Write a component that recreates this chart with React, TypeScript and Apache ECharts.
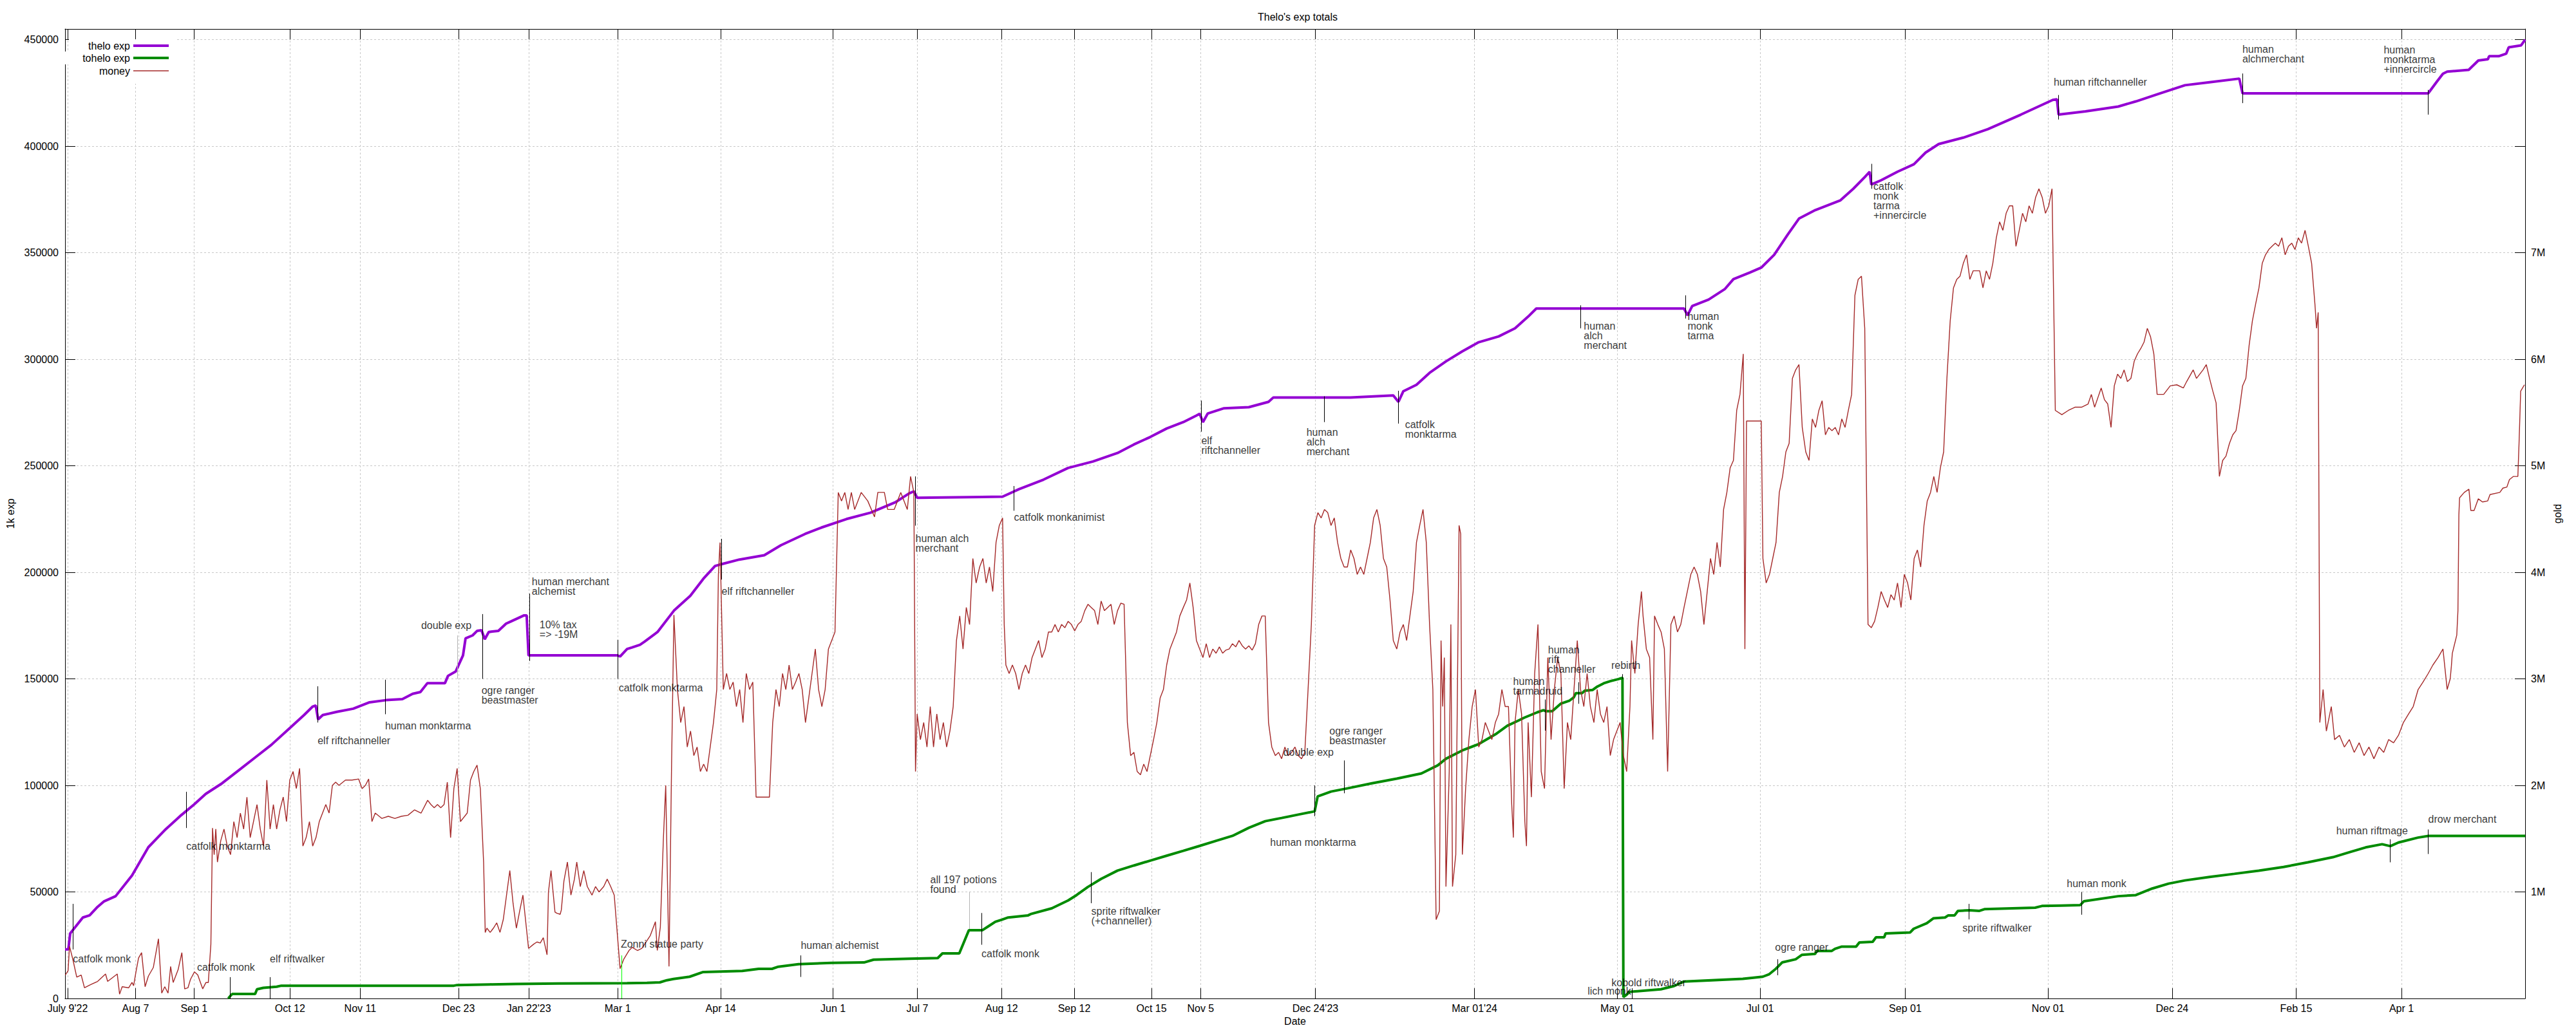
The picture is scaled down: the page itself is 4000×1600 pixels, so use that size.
import React, { useEffect, useRef } from 'react';
import * as echarts from 'echarts';

const FONT = 'Liberation Sans, Arial, sans-serif';
const START = Date.UTC(2022, 6, 9);
const DAY = 86400000;
const X_MIN_DAY = -1.1;
const X_MAX_DAY = 1049.8;

const tickDates = ['2022-07-09','2022-08-07','2022-09-01','2022-10-12','2022-11-11','2022-12-23','2023-01-22','2023-03-01','2023-04-14','2023-06-01','2023-07-07','2023-08-12','2023-09-12','2023-10-15','2023-11-05','2023-12-24','2024-03-01','2024-05-01','2024-07-01','2024-09-01','2024-11-01','2024-12-24','2025-02-15','2025-04-01'];
const tickLabels = ["July 9'22","Aug 7","Sep 1","Oct 12","Nov 11","Dec 23","Jan 22'23","Mar 1","Apr 14","Jun 1","Jul 7","Aug 12","Sep 12","Oct 15","Nov 5","Dec 24'23","Mar 01'24","May 01","Jul 01","Sep 01","Nov 01","Dec 24","Feb 15","Apr 1"];
const expTicks = [0, 50000, 100000, 150000, 200000, 250000, 300000, 350000, 400000, 450000];
const goldTicks = [0, 1, 2, 3, 4, 5, 6, 7, 8, 9];
const goldLabels = [1, 2, 3, 4, 5, 6, 7];

// [days since 2022-07-09, exp]
const theloExp = [[-1.1,23000],[0.3,23000],[1.1,30500],[6.5,38000],[9.4,39000],[12.8,43000],[15.6,45600],[20.5,48000],[27.5,57700],[34.5,71000],[41.5,79000],[48.5,86000],[54,91000],[59,96000],[66,101000],[73,107000],[80,113000],[87,119000],[94,126000],[101,133000],[104.7,137000],[106,137500],[107,131000],[109,133000],[115,134500],[122,136000],[129,139000],[136,140000],[143,140500],[147.4,143000],[150.7,143800],[153.7,148000],[161.2,148000],[162.5,151400],[165.8,153500],[168.9,161000],[170,169000],[173,170400],[174.9,172500],[176.8,172800],[178.2,168600],[179.9,172000],[184,172500],[187.3,175900],[189.5,177000],[195,179800],[196.1,179800],[196.9,161000],[234.9,161000],[236,160500],[239,164000],[241,164700],[244.5,166000],[246.4,167400],[252,172000],[259,182000],[266,189000],[271.6,197000],[276.6,203000],[280,204000],[287,206000],[297.6,208000],[304.7,212700],[315,218000],[322,221000],[332.7,225000],[343,228000],[353.8,233000],[359.4,237000],[361.5,238000],[362.9,235000],[399.4,235500],[406.4,239000],[416.9,243500],[427.4,249000],[438,252000],[448.5,256000],[455.5,260000],[462.5,263500],[469.5,267500],[476.6,270500],[482.2,273600],[483.6,274400],[485,270500],[487,274500],[494,277000],[504.6,277500],[513,280000],[515,282000],[548,282000],[566.3,283000],[568.5,280000],[570.6,285000],[576.2,288000],[581.8,293600],[588.8,299000],[595.8,303700],[602.8,308000],[611.3,310700],[618.3,314500],[623.9,320000],[627.4,323800],[690.5,323800],[692,320600],[694,325000],[701,328000],[708,333000],[711.6,337600],[718.6,340700],[723.5,343000],[729,349000],[734.8,358500],[739.6,366000],[746.6,370000],[757.2,374500],[762.8,380000],[767.7,385500],[769.8,388000],[770.5,382000],[774.7,384000],[781.7,388000],[788.7,391500],[793.7,397000],[799.3,401000],[809.8,404000],[820.3,408000],[834.4,414800],[848,421700],[849.8,422000],[850.5,414800],[862,416300],[876,418600],[883.5,421000],[894,424800],[904.5,428600],[915,430000],[927.7,431700],[929.1,424800],[1008.4,424800],[1011.9,430000],[1014.7,434000],[1016.5,435000],[1025.7,435800],[1029.8,440200],[1033.9,440800],[1034.4,442200],[1038.5,442200],[1041.7,443400],[1042.8,446400],[1048.1,447300],[1049.8,450000]];

const toheloExp = [[68.6,0],[69.6,1300],[70.3,2100],[80.1,2100],[80.9,4300],[83.6,5000],[89.3,5500],[91.3,6000],[165,6000],[166.4,6300],[180.4,6600],[191.4,6800],[209.6,7000],[239,7200],[247.5,7350],[253,7550],[256,8550],[258.8,9150],[265.7,10200],[271.5,12400],[288.2,12900],[295.2,13900],[300.9,13900],[303.6,14900],[312.2,16100],[326.2,16700],[340.2,16900],[344.3,18200],[359.7,18650],[371.7,18950],[373.7,21150],[380.9,21150],[385,32000],[390.7,32000],[393.5,34000],[396.3,36000],[399.1,37000],[401.8,38000],[410.3,39000],[411.4,39600],[420.4,42300],[427.4,46000],[431,48500],[435.8,52300],[441.5,56100],[448.5,60000],[455.5,62400],[462.5,64700],[469.5,67000],[476.6,69300],[483.6,71600],[490.6,74000],[497.6,76300],[504.6,80100],[511.6,83200],[518.6,84700],[525.7,86300],[532.7,87800],[534,94800],[539.7,97100],[546.7,98600],[557.2,101000],[567.8,103200],[578.3,105600],[585.3,109400],[588.8,112500],[595.8,116400],[602.8,119400],[610,124000],[615,128000],[619.5,130300],[622.3,131800],[627.8,134300],[630.5,135300],[631.4,134800],[634.2,134800],[637.8,138300],[641.6,139800],[643.4,141300],[644.3,143300],[647,143300],[648,144400],[651.5,144800],[653.5,146400],[656.2,147900],[659,148900],[662.5,149900],[664.2,150500],[664.6,600],[665.8,1600],[667.2,3100],[680.6,4300],[686.2,5800],[690.3,7900],[715.6,9200],[724.1,10200],[726.9,11400],[729.7,13900],[732.4,16900],[738.2,18400],[740.9,20500],[746.5,20900],[747.2,22300],[753.6,22300],[755,23300],[757.7,24300],[764,24300],[765.4,26300],[771.1,26600],[772.5,28700],[776,28700],[776.6,30500],[787.1,31000],[788.6,32700],[794.2,35300],[797,37600],[802,38000],[803.4,39000],[806.1,39000],[807.5,41100],[812.4,41400],[816.7,41100],[818.8,41900],[840.5,42600],[843.4,43400],[851.5,43600],[859.7,43800],[861.3,45600],[876,48000],[883.5,48500],[890.5,51600],[897.5,53900],[904.5,55400],[915,57000],[925.6,58500],[936,60000],[946.6,61700],[957,63900],[967.7,66300],[974.7,68600],[981.7,70900],[988.7,72400],[992.2,71500],[995.7,73200],[1004,75500],[1008.5,76300],[1049.8,76300]];

// [days since 2022-07-09, gold in millions]
const money = [[-1.0,0.22],[0.2,0.26],[0.8,0.49],[2.2,0.37],[3.9,0.2],[5.8,0.22],[7.2,0.1],[9.9,0.13],[12.8,0.16],[16.2,0.23],[17.1,0.16],[21.2,0.23],[22.2,0.04],[23.3,0.11],[26.1,0.1],[27.5,0.15],[28.2,0.12],[29.2,0.25],[30.3,0.38],[31.6,0.43],[33.1,0.11],[34.5,0.21],[36.6,0.29],[38.8,0.56],[40.2,0.05],[41.5,0.11],[42.9,0.05],[44,0.3],[45.1,0.15],[47.2,0.27],[48.8,0.43],[50,0.09],[51.4,0.1],[52.5,0.18],[54.2,0.25],[55.6,0.22],[57.7,0.09],[59.1,0.15],[60.1,0.15],[61.2,0.51],[61.9,1.6],[62.6,1.35],[63.3,1.59],[64,1.28],[65.4,1.48],[66.8,1.59],[68.2,1.43],[69.6,1.35],[71,1.66],[72.4,1.51],[73.8,1.74],[75.2,1.59],[76.6,1.89],[78,1.51],[79.4,1.66],[80.9,1.82],[82.3,1.59],[83.7,1.43],[85.1,2.05],[86.5,1.59],[87.9,1.82],[89.3,1.59],[90.7,1.77],[92.1,1.89],[93.5,1.66],[94.9,2.05],[96.3,2.13],[97.7,1.97],[99.1,2.16],[100.5,1.43],[101.9,1.51],[103.3,1.66],[104.7,1.43],[106.1,1.51],[107.5,1.66],[108.9,1.74],[110.3,1.82],[111.7,1.74],[113.1,2.0],[114.5,2.03],[115.9,2.0],[118.7,2.05],[121.5,2.05],[124.3,2.06],[125.8,1.97],[127.2,2.0],[128.6,2.06],[130,1.66],[131.4,1.74],[134.2,1.69],[137,1.71],[139.8,1.69],[142.6,1.71],[145.4,1.72],[148.2,1.77],[151,1.74],[153.8,1.86],[155.2,1.82],[156.6,1.79],[158,1.82],[159.4,1.79],[160.8,1.82],[162.2,2.03],[163.6,1.51],[165,1.97],[166.4,2.16],[167.8,1.66],[170.7,1.74],[172.1,2.05],[173.5,2.13],[174.9,2.19],[176.3,1.97],[177.7,1.28],[178.4,0.62],[179.1,0.66],[180.5,0.62],[181.9,0.66],[183.3,0.71],[184.7,0.62],[186.1,0.74],[187.5,0.97],[188.9,1.2],[190.3,0.89],[191.7,0.66],[193.1,0.82],[194.5,0.97],[196.9,0.47],[199.1,0.51],[200.5,0.53],[201.9,0.52],[203.2,0.57],[204.8,0.41],[205.4,1.0],[206.5,1.2],[208.2,0.81],[209,0.8],[210.4,0.79],[210.9,0.83],[212,1.1],[213.5,1.28],[215,0.97],[216.5,1.12],[217.5,1.28],[219,1.05],[220.5,1.2],[222,1.05],[224,0.97],[225.5,1.05],[227,1.0],[229,1.05],[230.5,1.12],[232,1.05],[233.5,0.97],[236,0.28],[237.6,0.37],[239.8,0.45],[241.2,0.48],[243.4,0.45],[245.3,0.47],[246.8,0.52],[248.9,0.59],[251.1,0.72],[251.9,0.45],[253.2,0.67],[254.5,1.5],[255.5,2.0],[256.9,0.3],[258,2.2],[259,3.6],[260.5,2.9],[261.9,2.59],[263.3,2.74],[264.7,2.36],[266.1,2.51],[267.5,2.28],[268.9,2.36],[270.3,2.13],[271.7,2.2],[273.1,2.13],[274.5,2.36],[275.9,2.59],[277.3,2.9],[278,3.98],[278.7,4.28],[280.1,2.9],[281.5,3.05],[282.9,2.9],[284.3,2.97],[285.7,2.74],[287.1,2.9],[288.5,2.59],[289.9,3.05],[291.3,2.9],[292.7,2.97],[294.1,1.89],[297,1.89],[299.8,1.89],[301.2,2.59],[302.6,2.9],[304,2.74],[305.4,3.05],[306.8,2.9],[308.2,3.13],[309.6,2.9],[311,2.97],[312.4,3.05],[313.8,2.9],[315.2,2.59],[316.6,2.82],[318,3.05],[319.4,3.28],[320.8,2.9],[322.2,2.74],[323.6,2.9],[325,3.28],[326.4,3.36],[327.8,3.44],[329.2,4.75],[330.6,4.67],[332,4.75],[333.4,4.59],[334.8,4.75],[336.2,4.59],[339,4.75],[341.8,4.67],[344.7,4.52],[346.1,4.75],[348.9,4.75],[350.3,4.59],[353.1,4.59],[355.9,4.75],[358.7,4.59],[360.1,4.9],[361.5,4.75],[362.2,2.13],[362.9,2.67],[364.3,2.43],[365.7,2.59],[367.1,2.36],[368.5,2.74],[369.9,2.36],[371.3,2.67],[372.7,2.43],[374.1,2.59],[375.5,2.36],[376.9,2.51],[378.3,2.74],[379.7,3.36],[381.1,3.59],[382.5,3.28],[383.9,3.67],[385.3,3.51],[386.7,4.13],[388.1,3.9],[389.6,4.05],[391,4.13],[392.4,3.9],[393.8,4.05],[395.2,3.82],[396.6,4.28],[398,4.44],[399.4,4.51],[400.1,3.51],[400.8,3.13],[402.2,3.05],[403.6,3.13],[405,3.05],[406.4,2.9],[407.8,3.05],[409.2,3.13],[410.6,3.05],[412,3.2],[413.4,3.28],[414.8,3.36],[416.2,3.2],[417.6,3.28],[419,3.44],[420.4,3.44],[421.8,3.51],[423.2,3.44],[424.6,3.51],[426,3.48],[427.4,3.54],[428.8,3.51],[430.2,3.45],[431.6,3.51],[433,3.54],[434.5,3.64],[435.9,3.7],[437.3,3.67],[438.7,3.64],[440.1,3.51],[441.5,3.73],[442.9,3.64],[444.3,3.67],[445.7,3.7],[447.1,3.51],[448.5,3.64],[449.9,3.71],[451.3,3.7],[452.7,2.59],[454.1,2.28],[455.5,2.31],[456.9,2.13],[458.3,2.1],[459.7,2.2],[461.1,2.13],[462.5,2.28],[463.9,2.43],[465.3,2.59],[466.7,2.82],[468.1,2.9],[469.5,3.13],[470.9,3.28],[472.3,3.36],[473.7,3.44],[475.1,3.59],[476.6,3.67],[478,3.74],[479.4,3.9],[480.8,3.67],[482.2,3.36],[483.6,3.28],[485,3.2],[486.4,3.33],[487.8,3.2],[489.2,3.28],[490.6,3.24],[492,3.3],[493.4,3.24],[494.8,3.27],[496.2,3.28],[497.6,3.33],[499,3.3],[500.4,3.36],[501.8,3.31],[503.2,3.28],[504.6,3.31],[506,3.27],[507.4,3.33],[508.8,3.51],[510.2,3.59],[511.6,3.59],[513,2.59],[514.4,2.36],[515.9,2.28],[517.3,2.31],[518.6,2.25],[520,2.36],[521.4,2.28],[522.9,2.31],[524.3,2.36],[525.7,2.28],[527.1,2.25],[528.5,2.31],[529.9,2.9],[531.3,3.51],[532.7,4.44],[534.1,4.56],[535.5,4.51],[536.9,4.59],[538.3,4.56],[539.7,4.44],[541.1,4.51],[542.5,4.28],[543.9,4.13],[545.3,4.05],[546.7,4.05],[548.1,4.21],[549.5,4.13],[550.9,3.98],[552.3,4.05],[553.7,3.98],[555.1,4.13],[556.5,4.28],[557.9,4.51],[559.3,4.59],[560.7,4.44],[562.1,4.13],[563.5,4.05],[564.9,3.74],[566.3,3.36],[567.8,3.28],[569.2,3.44],[570.6,3.51],[572,3.36],[573.4,3.59],[574.8,3.82],[576.2,4.28],[577.6,4.44],[579,4.59],[580.4,4.28],[581.8,3.51],[583.2,2.9],[584.6,0.74],[586,0.82],[586.7,3.36],[587.4,2.74],[588.1,3.2],[588.8,1.05],[590.2,2.13],[590.9,3.51],[591.6,1.05],[593,1.35],[594.4,4.44],[595.1,4.36],[595.8,1.35],[597.2,1.97],[598.6,2.43],[600,2.74],[601.4,2.9],[602.8,2.36],[604.2,2.43],[605.6,2.59],[607,2.51],[608.4,2.43],[609.9,2.59],[611.3,2.67],[612.7,2.9],[614.1,2.74],[615.5,2.74],[616.9,1.82],[617.6,1.51],[618.3,2.59],[619.7,2.9],[621.1,2.67],[622.5,1.66],[623.2,1.43],[623.9,2.59],[625.3,1.89],[626.7,3.05],[628.1,3.51],[629.5,2.13],[630.9,1.97],[632.3,3.2],[633.7,2.43],[635.1,2.9],[636.5,3.2],[637.9,3.05],[639.3,1.97],[640.7,2.59],[642.1,2.43],[643.5,2.9],[644.9,3.36],[646.3,2.9],[647.7,2.74],[649.1,3.05],[650.5,2.74],[652,2.59],[653.4,2.9],[654.8,2.67],[656.2,2.59],[657.6,2.74],[659,2.28],[660.4,2.43],[661.8,2.51],[663.2,2.59],[664.6,2.28],[666,2.13],[667.4,2.74],[668.1,3.36],[669.5,3.05],[670.9,3.51],[672.3,3.82],[673,3.59],[674.4,3.28],[675.8,3.2],[677.2,2.43],[677.9,3.59],[679.3,3.51],[680.7,3.44],[682.1,3.28],[683.5,2.13],[684.9,3.51],[686.3,3.59],[687.7,3.44],[689.1,3.51],[690.5,3.67],[691.9,3.82],[693.4,3.98],[694.8,4.05],[696.2,3.98],[697.6,3.82],[699,3.51],[700.4,3.82],[701.8,4.13],[703.2,3.98],[704.6,4.28],[706,4.05],[707.4,4.59],[708.8,4.75],[710.2,4.98],[711.6,5.05],[713,5.52],[714.4,5.67],[715.8,6.05],[716.5,3.28],[717.2,5.42],[723.5,5.42],[724.2,4.13],[725.6,3.9],[727,3.98],[728.4,4.13],[729.8,4.28],[731.2,4.75],[732.6,4.9],[734,5.13],[735.4,5.21],[736.8,5.82],[738.2,5.9],[739.6,5.95],[741,5.36],[742.5,5.13],[743.9,5.05],[745.3,5.44],[746.7,5.36],[748.1,5.52],[749.5,5.61],[750.9,5.29],[752.3,5.36],[753.7,5.33],[755.1,5.36],[756.5,5.29],[757.9,5.44],[759.3,5.36],[760.7,5.52],[762.1,5.67],[763.5,6.6],[764.9,6.75],[766.3,6.78],[767.7,6.29],[769.1,3.51],[770.5,3.48],[771.9,3.54],[773.3,3.67],[774.7,3.82],[776.1,3.74],[777.5,3.67],[778.9,3.79],[780.3,3.74],[781.7,3.9],[783.2,3.67],[784.6,3.98],[786,3.9],[787.4,3.74],[788.8,4.13],[790.2,4.21],[791.6,4.05],[793,4.44],[794.4,4.67],[795.8,4.75],[797.2,4.9],[798.6,4.75],[800,4.98],[801.4,5.13],[802.8,5.82],[804.2,6.36],[805.6,6.67],[807,6.75],[808.4,6.78],[809.8,6.9],[811.2,6.98],[812.6,6.75],[814,6.83],[816.8,6.83],[818.2,6.67],[819.6,6.83],[821,6.75],[822.4,6.9],[823.9,7.14],[825.3,7.29],[826.7,7.21],[828.1,7.37],[829.5,7.44],[830.9,7.44],[832.3,7.06],[833.7,7.21],[835.1,7.37],[836.5,7.29],[837.9,7.44],[839.3,7.37],[840.7,7.52],[842.1,7.6],[843.5,7.52],[844.9,7.37],[846.3,7.44],[847.7,7.6],[849.1,5.52],[851.9,5.48],[854.7,5.52],[857.5,5.55],[860.3,5.55],[863.1,5.58],[864.5,5.67],[865.9,5.55],[867.3,5.64],[868.7,5.73],[870.1,5.62],[871.5,5.58],[872.9,5.36],[874.3,5.75],[875.7,5.86],[877.1,5.82],[878.5,5.9],[879.9,5.79],[881.4,5.82],[882.8,5.98],[884.2,6.05],[885.6,6.1],[887,6.16],[888.4,6.29],[889.8,6.21],[891.2,6.05],[892.6,5.67],[895.4,5.67],[898.2,5.75],[901,5.76],[903.8,5.73],[905.2,5.79],[908,5.9],[909.4,5.82],[912.2,5.9],[913.6,5.95],[915,5.82],[916.4,5.7],[917.8,5.59],[919.2,4.9],[920.6,5.05],[922,5.09],[923.5,5.21],[924.9,5.29],[926.3,5.33],[927.7,5.52],[929.1,5.75],[930.5,5.82],[931.9,6.13],[933.3,6.36],[934.7,6.52],[936.1,6.67],[937.5,6.9],[938.9,6.98],[940.3,7.03],[941.7,7.06],[943.1,7.09],[944.5,7.06],[945.9,7.14],[947.3,6.98],[948.7,7.06],[950.1,7.09],[951.5,7.03],[952.9,7.14],[954.3,7.09],[955.8,7.21],[957.2,7.06],[958.6,6.9],[960,6.52],[960.7,6.29],[961.4,6.44],[962.1,2.59],[963.5,2.9],[964.9,2.51],[967,2.74],[968.4,2.43],[970.5,2.47],[972.6,2.36],[974.7,2.43],[976.8,2.31],[978.9,2.4],[981,2.28],[983.1,2.36],[985.2,2.25],[987.4,2.36],[989.4,2.31],[991.5,2.43],[993.6,2.4],[995.7,2.47],[997.8,2.59],[1000,2.67],[1002,2.74],[1004.1,2.9],[1006.2,2.97],[1008.4,3.05],[1010.4,3.13],[1012.6,3.2],[1014.7,3.28],[1016.5,2.9],[1017.8,3.0],[1018.3,3.12],[1018.7,3.24],[1020.6,3.41],[1021.1,3.64],[1021.3,4.07],[1021.5,4.54],[1021.8,4.7],[1023.8,4.75],[1025.8,4.78],[1026.6,4.58],[1028,4.58],[1029.8,4.69],[1031.6,4.66],[1033.8,4.67],[1034.8,4.73],[1039,4.75],[1040.3,4.79],[1042,4.8],[1043.1,4.87],[1044.8,4.9],[1046.7,4.9],[1047.2,5.21],[1047.9,5.7],[1049.5,5.76]];

// [day, exp, text]
const noteTexts = [
  [2.3, 18700, 'catfolk monk'],
  [50.7, 71600, 'catfolk monktarma'],
  [55.3, 14800, 'catfolk monk'],
  [86.4, 18700, 'elf riftwalker'],
  [106.8, 121000, 'elf riftchanneller'],
  [135.6, 128000, 'human monktarma'],
  [151, 175000, 'double exp'],
  [176.8, 142300, 'ogre ranger\nbeastmaster'],
  [198.3, 193300, 'human merchant\nalchemist'],
  [201.6, 173000, '10% tax\n=> -19M'],
  [235.4, 145700, 'catfolk monktarma'],
  [236.3, 25500, 'Zonni statue party'],
  [279.4, 191000, 'elf riftchanneller'],
  [313.2, 25000, 'human alchemist'],
  [362.2, 213500, 'human alch\nmerchant'],
  [368.5, 53500, 'all 197 potions\nfound'],
  [390.4, 20900, 'catfolk monk'],
  [404.3, 225800, 'catfolk monkanimist'],
  [437.3, 38700, 'sprite riftwalker\n(+channeller)'],
  [484.3, 259400, 'elf\nriftchanneller'],
  [513.7, 73200, 'human monktarma'],
  [519.3, 115600, 'double exp'],
  [529.2, 261300, 'human\nalch\nmerchant'],
  [539, 123300, 'ogre ranger\nbeastmaster'],
  [571.3, 267100, 'catfolk\nmonktarma'],
  [617.5, 146400, 'human\ntarmadruid'],
  [632.4, 159200, 'human\nrift\nchanneller'],
  [647.7, 311000, 'human\nalch\nmerchant'],
  [649.3, 3500, 'lich monk'],
  [659.4, 156400, 'rebirth'],
  [659.5, 7300, 'kobold riftwalker'],
  [692, 315700, 'human\nmonk\ntarma'],
  [729.4, 24000, 'ogre ranger'],
  [771.4, 374300, 'catfolk\nmonk\ntarma\n+innercircle'],
  [809.4, 33000, 'sprite riftwalker'],
  [848.4, 430200, 'human riftchanneller'],
  [854, 53900, 'human monk'],
  [929, 443300, 'human\nalchmerchant'],
  [969.1, 78600, 'human riftmage'],
  [989.4, 440800, 'human\nmonktarma\n+innercircle'],
  [1008.4, 84000, 'drow merchant'],
];

// [day, from exp, to exp, colour]
const markers = [
  [2.2, 23000, 44400, '#000'],
  [50.7, 80000, 97000, '#000'],
  [69.3, 0, 10000, '#000'],
  [86.4, 0, 10000, '#000'],
  [106.8, 129500, 146500, '#000'],
  [135.6, 133400, 149600, '#000'],
  [166.4, 150000, 170400, '#b4b4b4'],
  [177.1, 150000, 180400, '#000'],
  [197.2, 158400, 190000, '#000'],
  [235.1, 150000, 168300, '#000'],
  [236.6, 0, 20200, '#00ff00'],
  [279.4, 196600, 215700, '#000'],
  [313.2, 10100, 20200, '#000'],
  [362.2, 221900, 245000, '#000'],
  [385.3, 32600, 50000, '#b4b4b4'],
  [390.4, 25200, 40100, '#000'],
  [404.3, 228900, 240500, '#000'],
  [437.3, 44700, 59300, '#000'],
  [484.3, 266000, 280600, '#000'],
  [532.7, 85500, 100000, '#000'],
  [536.9, 270500, 282600, '#000'],
  [545.3, 96300, 111700, '#000'],
  [568.5, 269800, 285200, '#000'],
  [631.2, 125700, 140300, '#000'],
  [645.4, 138300, 148400, '#000'],
  [646.3, 314500, 325300, '#000'],
  [664.2, 149900, 152200, '#000'],
  [668.2, 0, 4800, '#000'],
  [691.2, 319100, 330000, '#000'],
  [730.4, 10900, 18400, '#000'],
  [770.5, 380000, 391700, '#000'],
  [812.3, 37100, 44400, '#000'],
  [850.5, 412500, 424000, '#000'],
  [860.3, 39300, 50000, '#000'],
  [929.1, 420200, 434100, '#000'],
  [992.2, 63900, 74700, '#000'],
  [1008.4, 414800, 426400, '#000'],
  [1008.4, 67800, 79300, '#000'],
];

const toMs = (d: number) => START + d * DAY;

export default function App() {
  const ref = useRef<HTMLDivElement>(null);
  useEffect(() => {
    if (!ref.current) return;
    const chart = echarts.init(ref.current, null, { renderer: 'svg' });
    const tickVals = tickDates.map((s) => Date.parse(s + 'T00:00:00Z'));
    const labelMap = new Map<number, string>();
    tickVals.forEach((v, i) => labelMap.set(v, tickLabels[i]));
    const xMin = toMs(X_MIN_DAY);
    const xMax = toMs(X_MAX_DAY);
    const black = '#000';
    const grid = { color: '#c8c8c8', type: [3, 3] as any, width: 1 };
    const txt = { color: black, fontSize: 16, fontFamily: FONT };
    const legendBase = {
      orient: 'horizontal', align: 'right', itemWidth: 55, itemGap: 0, icon: 'rect',
      backgroundColor: '#fff', selectedMode: false, right: 3728, textStyle: { ...txt, lineHeight: 16 },
    };
    const option: any = {
      animation: false,
      backgroundColor: '#fff',
      textStyle: { fontFamily: FONT },
      title: {
        text: "Thelo's exp totals", left: 2010, top: 13, textAlign: 'center',
        textStyle: { ...txt, fontWeight: 'normal' },
      },
      grid: { left: 100, right: 79, top: 45, bottom: 49, containLabel: false },
      legend: [
        { ...legendBase, data: ['thelo exp'], top: 61, itemHeight: 4, padding: [2, 10, 1, 30] },
        { ...legendBase, data: ['tohelo exp'], top: 80, itemHeight: 4, padding: [2, 10, 2, 30] },
        { ...legendBase, data: ['money'], top: 100, itemHeight: 1.4, padding: [2, 10, 12, 30] },
      ],
      xAxis: [
        {
          type: 'value', min: xMin, max: xMax, position: 'bottom',
          name: 'Date', nameLocation: 'middle', nameGap: 24, nameTextStyle: { ...txt },
          axisLine: { show: true, onZero: false, lineStyle: { color: black, width: 1 } },
          axisTick: { show: true, inside: true, length: 16, customValues: tickVals, lineStyle: { color: black } },
          axisLabel: {
            show: true, customValues: tickVals, margin: 7, ...txt,
            formatter: (v: number) => labelMap.get(v) ?? '',
          },
          splitLine: { show: true, lineStyle: grid },
        },
        {
          type: 'value', min: xMin, max: xMax, position: 'top',
          axisLine: { show: true, onZero: false, lineStyle: { color: black, width: 1 } },
          axisTick: { show: true, inside: true, length: 16, customValues: tickVals, lineStyle: { color: black } },
          axisLabel: { show: false },
          splitLine: { show: false },
        },
      ],
      yAxis: [
        {
          type: 'value', min: 0, max: 455000, position: 'left',
          name: '1k exp', nameLocation: 'middle', nameGap: 77, nameRotate: 90, nameTextStyle: { ...txt },
          axisLine: { show: true, onZero: false, lineStyle: { color: black, width: 1 } },
          axisTick: { show: true, inside: true, length: 16, customValues: expTicks, lineStyle: { color: black } },
          axisLabel: { show: true, customValues: expTicks, margin: 10, ...txt, formatter: (v: number) => String(v) },
          splitLine: { show: true, lineStyle: grid },
        },
        {
          type: 'value', min: 0, max: 9.1, position: 'right',
          name: 'gold', nameLocation: 'middle', nameGap: 27, nameRotate: 90, nameTextStyle: { ...txt },
          axisLine: { show: true, onZero: false, lineStyle: { color: black, width: 1 } },
          axisTick: { show: true, inside: true, length: 16, customValues: goldTicks, lineStyle: { color: black } },
          axisLabel: { show: true, customValues: goldLabels, margin: 9, ...txt, formatter: (v: number) => v + 'M' },
          splitLine: { show: false },
        },
      ],
      series: [
        {
          type: 'line', name: 'thelo exp', xAxisIndex: 0, yAxisIndex: 0, z: 3,
          data: theloExp.map(([d, v]) => [toMs(d), v]),
          symbol: 'none', showSymbol: false,
          lineStyle: { color: '#9400d3', width: 4 }, itemStyle: { color: '#9400d3' },
        },
        {
          type: 'line', name: 'tohelo exp', xAxisIndex: 0, yAxisIndex: 0, z: 3,
          data: toheloExp.map(([d, v]) => [toMs(d), v]),
          symbol: 'none', showSymbol: false,
          lineStyle: { color: '#008b00', width: 4 }, itemStyle: { color: '#008b00' },
        },
        {
          type: 'line', name: 'money', xAxisIndex: 0, yAxisIndex: 1, z: 4,
          data: money.map(([d, v]) => [toMs(d), v]),
          symbol: 'none', showSymbol: false,
          lineStyle: { color: '#a52a2a', width: 1.4 }, itemStyle: { color: '#a52a2a' },
        },
        {
          type: 'scatter', name: 'notes', xAxisIndex: 0, yAxisIndex: 0, z: 5, silent: true,
          symbol: 'circle', symbolSize: 0,
          data: noteTexts.map(([d, v, t]) => ({ value: [toMs(d as number), v], label: { formatter: t } })),
          label: { show: true, position: 'right', distance: 0, ...txt, lineHeight: 15 },
          markLine: {
            silent: true, symbol: ['none', 'none'], label: { show: false },
            lineStyle: { color: black, width: 1, type: 'solid' },
            data: markers.map(([d, a, b, c]) => [
              { coord: [toMs(d as number), a], lineStyle: { color: c, width: 1, type: 'solid' } },
              { coord: [toMs(d as number), b] },
            ]),
          },
        },
      ],
    };
    chart.setOption(option);
    return () => chart.dispose();
  }, []);
  return <div ref={ref} style={{ position: 'fixed', left: 0, top: 0, width: 4000, height: 1600 }} />;
}
